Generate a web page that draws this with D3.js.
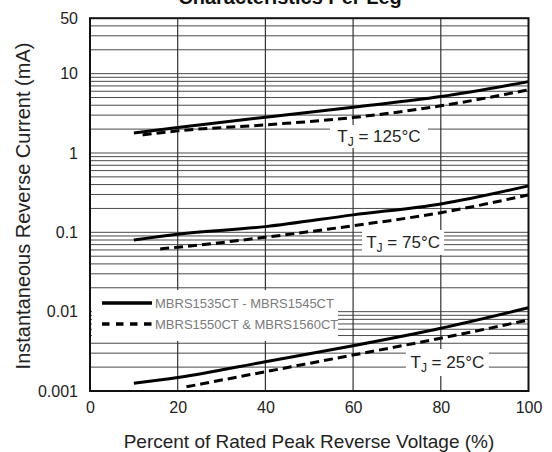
<!DOCTYPE html>
<html><head><meta charset="utf-8">
<script src="https://cdn.jsdelivr.net/npm/d3@7"></script>
<style>body{margin:0;background:#fff}svg{display:block}text{font-family:Arial,"Liberation Sans",sans-serif}</style>
</head><body><svg id="c" width="552" height="452"></svg>
<script>
const xTicks=[0,20,40,60,80,100];
const yTicks=[50,10,1,0.1,0.01,0.001];
const yTickLabels=["50","10","1","0.1","0.01","0.001"];
const solid125=[[10,1.79],[20,2.09],[40,2.83],[60,3.78],[80,5.14],[100,7.94]];
const dash125=[[12,1.69],[20,1.90],[40,2.26],[60,2.80],[80,3.93],[100,6.25]];
const solid75=[[10,0.080],[20,0.0946],[40,0.118],[60,0.166],[80,0.228],[100,0.385]];
const dash75=[[16,0.0618],[20,0.0648],[40,0.0867],[60,0.121],[80,0.177],[100,0.296]];
const solid25=[[10,0.00125],[20,0.00148],[40,0.00234],[60,0.00372],[80,0.00618],[100,0.0112]];
const dash25=[[22,0.00113],[40,0.00175],[60,0.00284],[80,0.00463],[100,0.00785]];
const legendNames=["MBRS1535CT - MBRS1545CT","MBRS1550CT & MBRS1560CT"];
const tempLabels=[{t:"125°C",x:65.9,y:1.615,w:98,h:23},{t:"75°C",x:71.4,y:0.0745,w:82,h:25},{t:"25°C",x:81.5,y:0.00229,w:83,h:27}];

const svg=d3.select("#c");
const L=90,R=528.5,T=18.2,B=391;
const x=d3.scaleLinear().domain([0,100]).range([L,R]);
const y=d3.scaleLog().domain([0.001,50]).range([B,T]);

// grid
const g=svg.append("g");
g.selectAll("line.h").data(y.ticks().filter(v=>v>0.001&&v<50)).join("line")
 .attr("x1",L).attr("x2",R).attr("y1",d=>y(d)).attr("y2",d=>y(d))
 .attr("stroke","#4a4a4a").attr("stroke-width",1);
g.selectAll("line.v").data(xTicks.slice(1,-1)).join("line")
 .attr("x1",d=>x(d)).attr("x2",d=>x(d)).attr("y1",T).attr("y2",B)
 .attr("stroke","#333").attr("stroke-width",1.2);

// legend box & label boxes
svg.append("rect").attr("x",x(0.45)).attr("y",290).attr("width",246).attr("height",51).attr("fill","#fff");
tempLabels.forEach(d=>{
  svg.append("rect").attr("x",x(d.x)-d.w/2).attr("y",y(d.y)-d.h/2).attr("width",d.w).attr("height",d.h).attr("fill","#fff");
  const t=svg.append("text").attr("x",x(d.x)).attr("y",y(d.y)+6).attr("text-anchor","middle").attr("font-size",17).attr("fill","#222");
  t.append("tspan").text("T");
  t.append("tspan").text("J").attr("font-size",12).attr("dy",4);
  t.append("tspan").text(" = "+d.t).attr("dy",-4);
});

// curves
const line=d3.line().x(d=>x(d[0])).y(d=>y(d[1])).curve(d3.curveMonotoneX);
[[solid125,0],[dash125,1],[solid75,0],[dash75,1],[solid25,0],[dash25,1]].forEach(([d,k])=>{
  svg.append("path").attr("d",line(d)).attr("fill","none").attr("stroke","#000").attr("stroke-width",3)
   .attr("stroke-dasharray",k?"9,5":null);
});

// legend
legendNames.forEach((n,i)=>{
  const yy=303+i*21;
  svg.append("line").attr("x1",102).attr("x2",152).attr("y1",yy).attr("y2",yy).attr("stroke","#000").attr("stroke-width",3.5)
   .attr("stroke-dasharray",i?"7.5,6.5":null);
  svg.append("text").attr("x",155).attr("y",yy+4.5).attr("font-size",13).attr("fill","#7a7a7a").text(n);
});

// border
svg.append("rect").attr("x",L).attr("y",T).attr("width",R-L).attr("height",B-T).attr("fill","none").attr("stroke","#111").attr("stroke-width",2);

// axes
const ya=svg.append("g").attr("transform",`translate(${L},0)`).call(d3.axisLeft(y).tickValues(yTicks).tickFormat((d,i)=>yTickLabels[i]).tickSize(0).tickPadding(12));
ya.select(".domain").remove();
ya.selectAll("text").attr("font-size",16).attr("fill","#222").attr("font-family","Arial, Liberation Sans, sans-serif");
const xa=svg.append("g").attr("transform",`translate(0,${B})`).call(d3.axisBottom(x).tickValues(xTicks).tickFormat(d=>String(d)).tickSize(0).tickPadding(11));
xa.select(".domain").remove();
xa.selectAll("text").attr("font-size",16).attr("fill","#222").attr("font-family","Arial, Liberation Sans, sans-serif");

// titles
svg.append("text").attr("x",290).attr("y",4).attr("text-anchor","middle").attr("font-size",20).attr("font-weight","bold").attr("fill","#111").text("Characteristics Per Leg");
svg.append("text").attr("x",309).attr("y",448).attr("text-anchor","middle").attr("font-size",19).attr("fill","#222").text("Percent of Rated Peak Reverse Voltage (%)");
svg.append("text").attr("transform","translate(30,206) rotate(-90)").attr("text-anchor","middle").attr("font-size",20).attr("fill","#222").text("Instantaneous Reverse Current (mA)");
</script></body></html>
